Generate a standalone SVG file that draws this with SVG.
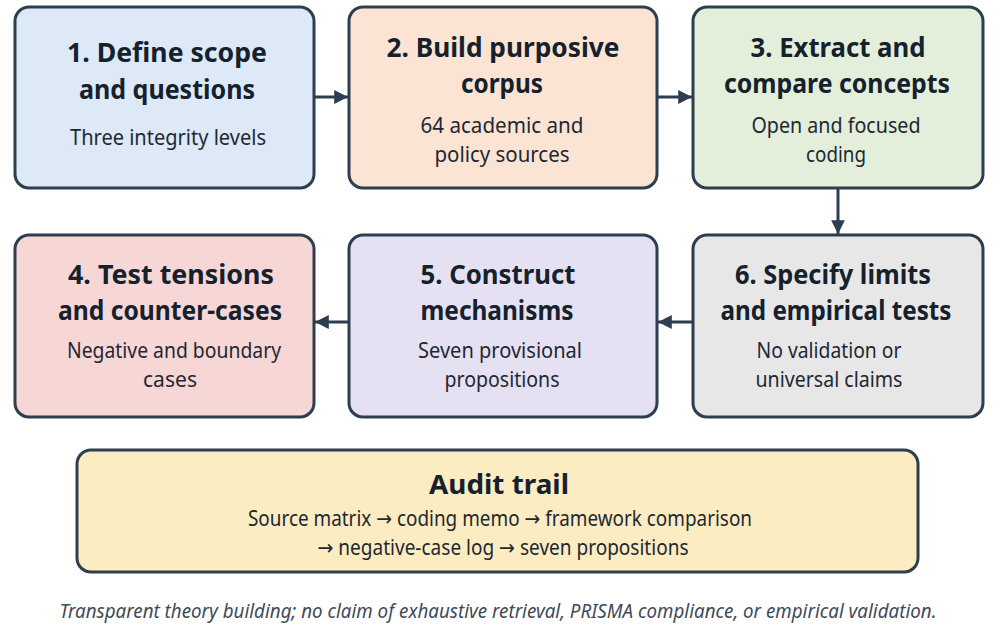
<svg xmlns="http://www.w3.org/2000/svg" width="1008" height="631" viewBox="0 0 1008 631">
<defs>
<marker id="ah" viewBox="0 0 10 10" refX="10" refY="5" markerWidth="4.6" markerHeight="4.6" orient="auto" markerUnits="strokeWidth">
<path d="M0,0 L10,5 L0,10 Z" fill="#2c3e50"/>
</marker>
<style>
.box{stroke:#2c3e50;stroke-width:3}
.t{font-family:"Noto Sans","Open Sans","DejaVu Sans",sans-serif;font-weight:700;font-size:26px;fill:#16212e;text-anchor:middle}
.s{font-family:"Noto Sans","Open Sans","DejaVu Sans",sans-serif;font-size:21px;fill:#1e2833;text-anchor:middle}
.c{stroke:#2c3e50;stroke-width:3;fill:none}
.f{font-family:"Noto Sans","Open Sans","DejaVu Sans",sans-serif;font-style:italic;font-size:20px;fill:#3f4a57;text-anchor:middle}
</style>
</defs>
<rect width="1008" height="631" fill="#ffffff"/>
<g id="connectors">
<line class="c" x1="314" y1="97" x2="348" y2="97" marker-end="url(#ah)"/>
<line class="c" x1="657" y1="97" x2="692" y2="97" marker-end="url(#ah)"/>
<line class="c" x1="838" y1="188" x2="838" y2="234" marker-end="url(#ah)"/>
<line class="c" x1="693" y1="322" x2="658" y2="322" marker-end="url(#ah)"/>
<line class="c" x1="349" y1="322" x2="315" y2="322" marker-end="url(#ah)"/>
</g>
<g id="n1">
<rect class="box" x="15" y="7" width="299" height="181" rx="14" fill="#dde9f6"/>
<text class="t" x="167" y="62" textLength="200" lengthAdjust="spacingAndGlyphs">1. Define scope</text>
<text class="t" x="167" y="99" textLength="176" lengthAdjust="spacingAndGlyphs">and questions</text>
<text class="s" x="168" y="145" textLength="196" lengthAdjust="spacingAndGlyphs">Three integrity levels</text>
</g>
<g id="n2">
<rect class="box" x="349" y="7" width="308" height="181" rx="14" fill="#fce4d4"/>
<text class="t" x="503" y="57" textLength="233" lengthAdjust="spacingAndGlyphs">2. Build purposive</text>
<text class="t" x="502" y="93" textLength="82" lengthAdjust="spacingAndGlyphs">corpus</text>
<text class="s" x="502" y="133" textLength="163" lengthAdjust="spacingAndGlyphs">64 academic and</text>
<text class="s" x="502" y="162" textLength="135" lengthAdjust="spacingAndGlyphs">policy sources</text>
</g>
<g id="n3">
<rect class="box" x="693" y="7" width="290" height="181" rx="14" fill="#e3efdb"/>
<text class="t" x="838" y="57" textLength="175" lengthAdjust="spacingAndGlyphs">3. Extract and</text>
<text class="t" x="837" y="93" textLength="226" lengthAdjust="spacingAndGlyphs">compare concepts</text>
<text class="s" x="836" y="133" textLength="169" lengthAdjust="spacingAndGlyphs">Open and focused</text>
<text class="s" x="836" y="162" textLength="60" lengthAdjust="spacingAndGlyphs">coding</text>
</g>
<g id="n4">
<rect class="box" x="15" y="235" width="299" height="182" rx="14" fill="#f7d6d6"/>
<text class="t" x="171" y="284" textLength="206" lengthAdjust="spacingAndGlyphs">4. Test tensions</text>
<text class="t" x="170" y="320" textLength="224" lengthAdjust="spacingAndGlyphs">and counter-cases</text>
<text class="s" x="174" y="358" textLength="214" lengthAdjust="spacingAndGlyphs">Negative and boundary</text>
<text class="s" x="170" y="387" textLength="54" lengthAdjust="spacingAndGlyphs">cases</text>
</g>
<g id="n5">
<rect class="box" x="349" y="235" width="308" height="182" rx="14" fill="#e6e1f2"/>
<text class="t" x="498" y="284" textLength="155" lengthAdjust="spacingAndGlyphs">5. Construct</text>
<text class="t" x="497" y="320" textLength="153" lengthAdjust="spacingAndGlyphs">mechanisms</text>
<text class="s" x="500" y="358" textLength="164" lengthAdjust="spacingAndGlyphs">Seven provisional</text>
<text class="s" x="502" y="387" textLength="115" lengthAdjust="spacingAndGlyphs">propositions</text>
</g>
<g id="n6">
<rect class="box" x="693" y="235" width="290" height="182" rx="14" fill="#e7e7e7"/>
<text class="t" x="833" y="284" textLength="196" lengthAdjust="spacingAndGlyphs">6. Specify limits</text>
<text class="t" x="836" y="320" textLength="231" lengthAdjust="spacingAndGlyphs">and empirical tests</text>
<text class="s" x="829" y="358" textLength="145" lengthAdjust="spacingAndGlyphs">No validation or</text>
<text class="s" x="829" y="387" textLength="147" lengthAdjust="spacingAndGlyphs">universal claims</text>
</g>
<g id="audit">
<rect class="box" x="77" y="450" width="841" height="122" rx="14" fill="#fcecc2"/>
<text class="t" x="499" y="494" font-size="30" textLength="140" lengthAdjust="spacingAndGlyphs">Audit trail</text>
<text class="s" x="500" y="526" textLength="504" lengthAdjust="spacingAndGlyphs">Source matrix → coding memo → framework comparison</text>
<text class="s" x="503" y="555" textLength="371" lengthAdjust="spacingAndGlyphs">→ negative-case log → seven propositions</text>
</g>
<g id="footer">
<text class="f" x="498" y="618" textLength="877" lengthAdjust="spacingAndGlyphs">Transparent theory building; no claim of exhaustive retrieval, PRISMA compliance, or empirical validation.</text>
</g>
</svg>
